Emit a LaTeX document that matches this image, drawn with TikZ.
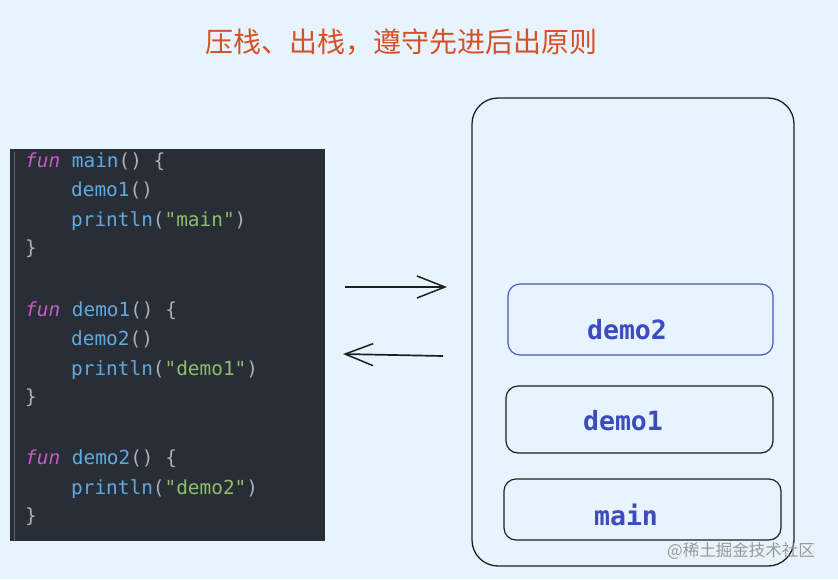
\documentclass[tikz,border=0pt]{standalone}
\usepackage{fontspec}
\usetikzlibrary{arrows.meta}
\setmonofont{DejaVu Sans Mono}
\newfontfamily\cjk{Noto Sans CJK SC}
\definecolor{bg}{RGB}{232,244,253}
\definecolor{panel}{RGB}{41,45,53}
\definecolor{kw}{RGB}{200,90,200}
\definecolor{fn}{RGB}{95,170,225}
\definecolor{pn}{RGB}{170,176,186}
\definecolor{st}{RGB}{140,190,110}
\definecolor{titlec}{RGB}{214,80,40}
\definecolor{boxblue}{RGB}{70,90,195}
\definecolor{txtblue}{RGB}{60,75,190}
\definecolor{ink}{RGB}{30,30,35}
\tikzset{
  code/.style={anchor=base west, inner sep=0pt, font=\ttfamily\fontsize{19.4}{22}\selectfont},
  stackbox/.style={draw=ink, line width=1.2pt, rounded corners=12pt, inner sep=0pt},
  stacklabel/.style={font=\ttfamily\bfseries\fontsize{26.5}{30}\selectfont, text=txtblue, inner sep=0pt},
  handarrow/.style={draw=ink, line width=1.7pt, -{Straight Barb[length=28pt,width=22pt,line width=1.5pt]}},
}
\begin{document}
\begin{tikzpicture}[x=1pt,y=-1pt]
\fill[bg] (0,0) rectangle (838,579);
\useasboundingbox (0,0) rectangle (838,579);
% title
\node[font=\cjk\fontsize{28}{30}\selectfont, text=titlec] (title) at (401,42) {压栈、出栈，遵守先进后出原则};
% code panel
\fill[panel] (10,149) rectangle (325,541);
\draw[pn!45!panel, line width=0.6pt] (14,152) -- (14,541);
\node[code] (l1) at (25,167) {\textcolor{kw}{\textit{fun}} \textcolor{fn}{main}\textcolor{pn}{() \{}};
\node[code] (l2) at (71,196) {\textcolor{fn}{demo1}\textcolor{pn}{()}};
\node[code] (l3) at (71,226) {\textcolor{fn}{println}\textcolor{pn}{(}\textcolor{st}{"main"}\textcolor{pn}{)}};
\node[code] (l4) at (25,254) {\textcolor{pn}{\}}};
\node[code] (l5) at (25,316) {\textcolor{kw}{\textit{fun}} \textcolor{fn}{demo1}\textcolor{pn}{() \{}};
\node[code] (l6) at (71,345) {\textcolor{fn}{demo2}\textcolor{pn}{()}};
\node[code] (l7) at (71,375) {\textcolor{fn}{println}\textcolor{pn}{(}\textcolor{st}{"demo1"}\textcolor{pn}{)}};
\node[code] (l8) at (25,403) {\textcolor{pn}{\}}};
\node[code] (l9) at (25,464) {\textcolor{kw}{\textit{fun}} \textcolor{fn}{demo2}\textcolor{pn}{() \{}};
\node[code] (l10) at (71,494) {\textcolor{fn}{println}\textcolor{pn}{(}\textcolor{st}{"demo2"}\textcolor{pn}{)}};
\node[code] (l11) at (25,522) {\textcolor{pn}{\}}};
% arrows
\coordinate (a1s) at (345,287);
\coordinate (a1e) at (447,287);
\coordinate (a2s) at (443,356);
\coordinate (a2e) at (343,354);
\draw[handarrow] (a1s) -- (a1e);
\draw[handarrow] (a2s) -- (a2e);
% stack container
\draw[ink, line width=1.3pt, rounded corners=26pt] (472,98) rectangle (794,566);
\node[stackbox, draw=boxblue, minimum width=265pt, minimum height=71pt] (d2) at (640.5,319.5) {};
\node[stacklabel] (d2t) at (627,330) {demo2};
\node[stackbox, minimum width=267pt, minimum height=67pt] (d1) at (639.5,419.5) {};
\node[stacklabel] (d1t) at (623,421) {demo1};
\node[stackbox, minimum width=277pt, minimum height=61pt] (mn) at (642.5,509.5) {};
\node[stacklabel] (mnt) at (626,515) {main};
% watermark
\node[font=\cjk\fontsize{16.5}{18}\selectfont, text=black!40, inner sep=0pt] (wm) at (741,551) {@稀土掘金技术社区};
\end{tikzpicture}
\end{document}
